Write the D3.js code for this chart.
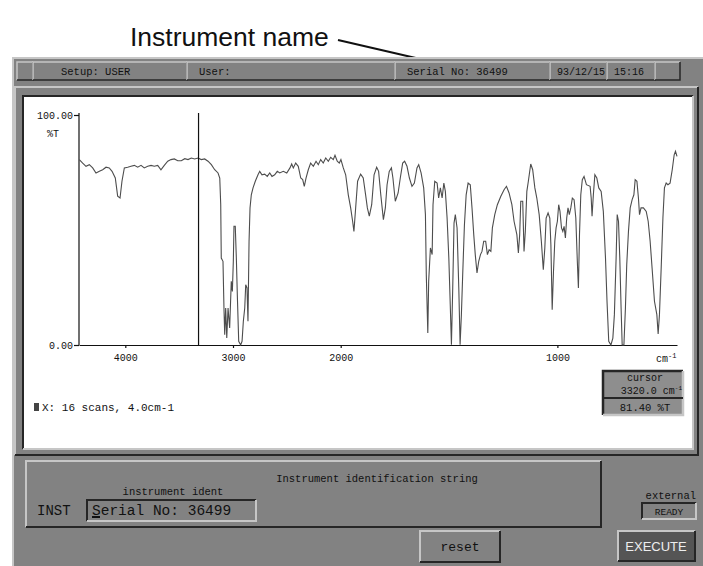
<!DOCTYPE html>
<html>
<head>
<meta charset="utf-8">
<script src="https://cdn.jsdelivr.net/npm/d3@7"></script>
<style>
  html, body { margin: 0; padding: 0; background: #fff; }
  svg { display: block; }
  text { font-family: "Liberation Mono", "DejaVu Sans Mono", monospace; fill: #111; }
</style>
</head>
<body>
<div id="chart"></div>
<script>
// spectrum (cm-1 / %T)
const wavenumbers = [
  4427,4396,4365,4334,4303,4272,4241,4210,4179,4149,4123,4093,4071,4049,4031,4009,3978,3947,3916,3885,
  3854,3824,3792,3761,3731,3699,3669,3638,3606,3576,3545,3513,
  3480,3448,3418,3387,3356,3325,3294,3263,3232,3201,3170,3139,3123,3114,3109,3093,3084,3077,3068,3058,
  3046,3031,3016,3006,2997,2991,2979,2969,2960,2947,2929,2916,2904,2891,2882,2870,2861,2851,2842,2830,
  2814,2793,2768,2752,2731,2706,2682,2659,2638,2613,2589,2566,
  2533,2501,2471,2455,2440,2418,2394,2371,2353,2338,2322,2301,2279,2254,2229,2208,2186,2162,2139,2115,
  2093,2069,2053,2032,2013,
  1999,1988,1977,1965,1954,1945,1939,1931,1922,1908,1896,1885,1877,1868,1857,1846,1834,1825,1815,1803,
  1794,1786,1776,1766,1759,1748,1735,1725,1714,1705,1694,1683,1671,1660,1648,1640,1629,1617,1609,1605,
  1598,1594,1586,1578,1574,1566,1555,1548,1540,1532,1524,1517,1509,1501,1494,1489,1483,1477,1471,1463,
  1455,1449,1443,1437,1429,1421,1412,1402,1394,1386,1379,1371,1363,1355,1348,1340,
  1331,1323,1315,1307,1300,1289,1277,1261,1246,1235,1223,1210,1200,1187,1180,1174,1169,1160,1154,1148,
  1141,1134,1123,1114,1104,1095,1084,1074,1065,1058,1052,1043,1035,1030,1024,1018,1012,1006,1000,994,
  988,981,975,969,963,957,951,945,938,931,923,915,908,903,898,892,885,877,866,
  849,844,840,834,827,818,809,798,788,778,771,763,753,744,737,729,724,718,712,706,
  701,693,686,680,672,664,655,647,641,633,626,621,614,603,590,581,572,563,552,541,
  535,529,521,513,506,498,490,480,470,461,455,448
];
const transmittance = [
  80.6,79.1,77.7,78.4,77.0,74.8,75.5,76.2,77.3,77.0,75.5,72.6,64.7,63.9,71.2,77.0,77.3,77.7,78.1,77.3,
  78.1,77.0,77.7,78.1,77.7,78.1,76.2,78.1,79.9,80.6,80.9,80.1,
  80.1,81.0,80.6,81.3,80.9,81.3,80.6,80.9,79.9,78.4,76.2,74.8,72.6,61.0,37.8,36.4,16.1,4.5,16.1,3.0,
  16.1,7.4,27.7,23.3,36.4,51.6,51.6,37.8,21.9,1.6,0.0,1.6,10.3,16.1,26.2,24.8,10.3,45.1,59.6,65.3,
  68.3,71.2,74.0,75.5,74.0,74.3,73.3,74.8,73.3,74.0,75.5,74.8,
  75.5,74.8,77.0,78.7,77.0,79.1,77.7,72.6,71.9,69.0,72.6,76.2,79.1,77.7,79.9,78.4,80.6,79.1,81.3,79.9,
  81.6,80.6,82.5,79.9,79.1,
  80.6,77.0,74.0,65.3,59.6,53.8,49.4,59.6,71.2,74.3,72.6,65.3,59.6,56.0,61.0,74.0,77.3,75.5,65.3,54.5,
  59.6,69.7,75.5,77.0,72.6,62.5,66.1,72.6,79.1,79.9,77.7,72.6,69.0,70.4,77.0,78.4,74.8,68.3,56.7,30.6,
  5.2,27.7,42.2,39.3,61.0,71.2,70.4,63.9,68.3,63.9,70.4,66.8,55.2,37.8,16.1,0.1,24.8,53.0,56.7,50.9,
  24.8,0.1,13.2,30.6,52.3,65.3,70.4,69.7,59.6,48.0,39.3,31.3,36.4,39.3,40.7,45.1,
  45.1,39.3,41.4,40.7,50.9,56.7,61.0,64.7,67.5,69.0,66.1,61.0,53.8,48.0,40.0,48.0,62.5,62.5,40.7,49.4,
  66.8,71.2,78.7,76.2,68.3,63.9,56.7,45.1,32.7,42.2,55.2,57.4,55.2,43.6,15.3,32.0,45.1,50.9,53.8,61.0,
  58.1,50.9,49.4,51.6,46.5,55.2,59.6,56.7,59.6,63.9,63.2,55.2,36.4,24.8,48.0,65.3,71.9,73.3,69.7,
  69.0,63.9,56.0,65.3,74.0,72.6,68.3,66.8,58.1,37.8,19.0,1.6,0.0,3.0,13.2,37.8,56.7,53.8,37.8,16.1,
  0.0,0.0,16.1,34.9,49.4,59.6,63.2,65.3,71.9,71.2,63.9,56.7,59.6,59.6,58.1,53.8,45.1,33.5,19.0,13.2,
  4.8,13.2,33.5,55.2,68.3,70.4,69.7,70.4,76.2,82.7,84.2,82.0
];
const xTicks = [4000, 3000, 2000, 1000];
const yTicks = [0, 100];
const statusFields = ['', 'Setup: USER', 'User:', 'Serial No: 36499', '93/12/15', '15:16', ''];
const cursorWn = 3320.0;
const cursorT = 81.40;

const W = 703, H = 566;
const LIGHT = '#c6c6c6', DARK = '#262626', FACE = '#828282';

const svg = d3.select('#chart').append('svg')
  .attr('width', W)
  .attr('height', H);

// bevelled box, raised = light top/left
function bevel(x, y, w, h, raised, fill, lw) {
  lw = lw || 1.5;
  const g = svg.append('g');
  g.append('rect').attr('x', x).attr('y', y).attr('width', w).attr('height', h).attr('fill', fill || 'none');
  g.append('path')
    .attr('d', `M${x},${y + h}V${y}H${x + w}`)
    .attr('fill', 'none').attr('stroke', raised ? LIGHT : DARK).attr('stroke-width', lw);
  g.append('path')
    .attr('d', `M${x + w},${y}V${y + h}H${x}`)
    .attr('fill', 'none').attr('stroke', raised ? DARK : LIGHT).attr('stroke-width', lw);
  return g;
}

// callout above the screen
svg.append('text')
  .attr('x', 130).attr('y', 46)
  .style('font-family', '"Liberation Sans", Arial, sans-serif')
  .style('font-size', '26.5px')
  .text('Instrument name');
svg.append('line')
  .attr('x1', 338).attr('y1', 40).attr('x2', 446).attr('y2', 65)
  .attr('stroke', '#111').attr('stroke-width', 2);

// screen background
svg.append('rect')
  .attr('x', 12).attr('y', 57).attr('width', W - 12).attr('height', H - 57)
  .attr('fill', FACE);
svg.append('path')
  .attr('d', `M13,${H}V58H${W}`)
  .attr('fill', 'none').attr('stroke', LIGHT).attr('stroke-width', 2);

// status bar
const barEdges = [17, 33, 187, 395, 550, 607, 655, 680];
statusFields.forEach((f, i) => {
  const x0 = barEdges[i], x1 = barEdges[i + 1] !== undefined ? barEdges[i + 1] : 697;
  bevel(x0, 62, x1 - x0, 18, true, FACE, 1.5);
  if (f) {
    svg.append('text')
      .attr('x', x0 + (i === 1 ? 28 : i >= 4 ? 7 : 12)).attr('y', 75)
      .style('font-size', i >= 4 ? '10px' : '10.5px')
      .text(f);
  }
});

// chart frame
bevel(15, 87, 683, 368, true, FACE, 2);
bevel(23, 96, 670, 353, false, '#fff', 2);

// scales: the instrument expands the axis by 2x below 2000 cm-1
const x = d3.scaleLinear().domain([4430, 2000, 448]).range([79, 340.7, 677]);
const y = d3.scaleLinear().domain([0, 100]).range([345, 115]);

const xAxis = svg.append('g')
  .attr('class', 'axis axis-x')
  .attr('transform', 'translate(0,345)')
  .call(d3.axisBottom(x).tickValues(xTicks).tickFormat(d3.format('d')).tickSize(3).tickSizeOuter(0).tickPadding(6));
const yAxis = svg.append('g')
  .attr('class', 'axis axis-y')
  .attr('transform', 'translate(79,0)')
  .call(d3.axisLeft(y).tickValues(yTicks).tickFormat(d => d.toFixed(2)).tickSize(5).tickSizeOuter(0).tickPadding(1));
svg.selectAll('.axis path, .axis line').attr('stroke', '#111').attr('stroke-width', 1.2);
svg.selectAll('.axis text')
  .style('font-family', '"Liberation Mono", monospace')
  .style('font-size', '10px')
  .style('fill', '#111');
yAxis.select('.domain').attr('d', 'M0,345V113');

svg.append('text')
  .attr('x', 53).attr('y', 137).attr('text-anchor', 'middle')
  .style('font-size', '10px').text('%T');

const cmLabel = svg.append('text').attr('x', 656).attr('y', 362).style('font-size', '10px');
cmLabel.append('tspan').text('cm');
cmLabel.append('tspan').attr('dy', -4).style('font-size', '7px').text('-1');

// spectrum
const pts = wavenumbers.map((w, i) => [w, transmittance[i]]);
svg.append('path')
  .datum(pts)
  .attr('fill', 'none')
  .attr('stroke', '#4d4d4d')
  .attr('stroke-width', 1.1)
  .attr('d', d3.line().x(d => x(d[0])).y(d => y(d[1])));

// cursor line
svg.append('line')
  .attr('x1', x(cursorWn)).attr('x2', x(cursorWn))
  .attr('y1', 113).attr('y2', y(0))
  .attr('stroke', '#111').attr('stroke-width', 1.2);

// legend
svg.append('rect').attr('x', 34).attr('y', 403).attr('width', 5).attr('height', 8).attr('fill', '#444');
svg.append('text').attr('x', 42).attr('y', 411).style('font-size', '11px').text('X: 16 scans, 4.0cm-1');

// cursor readout
bevel(603, 371, 80, 44, false, '#8e8e8e', 2.5);
svg.append('line').attr('x1', 604).attr('x2', 683).attr('y1', 398).attr('y2', 398).attr('stroke', DARK).attr('stroke-width', 2);
svg.append('text').attr('x', 645).attr('y', 381).attr('text-anchor', 'middle').style('font-size', '10px').text('cursor');
const cw = svg.append('text').attr('x', 682).attr('y', 394).attr('text-anchor', 'end').style('font-size', '10px');
cw.append('tspan').text(cursorWn.toFixed(1) + ' cm');
cw.append('tspan').attr('dy', -4).style('font-size', '6px').text('-1');
svg.append('text').attr('x', 645).attr('y', 411).attr('text-anchor', 'middle').style('font-size', '10.5px').text(cursorT.toFixed(2) + ' %T');

// bottom controls
bevel(26, 461, 575, 66, true, FACE, 2);
svg.append('text').attr('x', 377).attr('y', 482).attr('text-anchor', 'middle').style('font-size', '10.5px').text('Instrument identification string');
svg.append('text').attr('x', 173).attr('y', 495).attr('text-anchor', 'middle').style('font-size', '10.5px').text('instrument ident');
svg.append('text').attr('x', 37).attr('y', 515).style('font-size', '14px').text('INST');
bevel(87, 500, 169, 21, false, FACE, 2);
svg.append('text').attr('x', 92).attr('y', 515).style('font-size', '14.5px').text('Serial No: 36499');
svg.append('rect').attr('x', 92).attr('y', 516).attr('width', 8).attr('height', 2).attr('fill', '#111');

svg.append('text').attr('x', 696).attr('y', 499).attr('text-anchor', 'end').style('font-size', '10.5px').text('external');
bevel(642, 503, 54, 16, false, FACE, 2);
svg.append('text').attr('x', 669).attr('y', 515).attr('text-anchor', 'middle').style('font-size', '9.5px').text('READY');

bevel(420, 531, 80, 31, true, FACE, 2);
svg.append('text').attr('x', 460).attr('y', 551).attr('text-anchor', 'middle').style('font-size', '13px').text('reset');

bevel(618, 531, 77, 30, true, '#555', 2);
svg.append('text').attr('x', 656).attr('y', 551).attr('text-anchor', 'middle')
  .style('font-family', '"Liberation Sans", Arial, sans-serif').style('font-size', '13px')
  .style('fill', '#eee')
  .text('EXECUTE');
</script>
</body>
</html>
